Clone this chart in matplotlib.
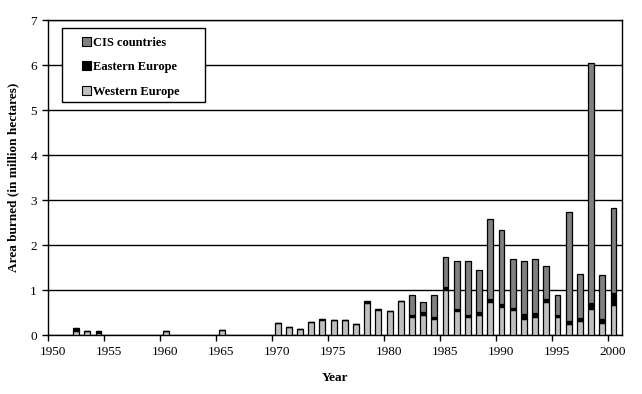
import numpy as np
import matplotlib
matplotlib.use('Agg')
import matplotlib.pyplot as plt
from matplotlib.patches import Patch, Rectangle
from matplotlib.transforms import ScaledTranslation

# Burned area per year (million ha)
years = [1952, 1953, 1954, 1960, 1965,
         1970, 1971, 1972, 1973, 1974, 1975, 1976, 1977, 1978, 1979,
         1980, 1981, 1982, 1983, 1984, 1985, 1986, 1987, 1988, 1989,
         1990, 1991, 1992, 1993, 1994, 1995, 1996, 1997, 1998, 1999, 2000]
western = [0.09, 0.08, 0.04, 0.08, 0.11,
           0.26, 0.17, 0.13, 0.29, 0.34, 0.33, 0.33, 0.24, 0.72, 0.55,
           0.53, 0.75, 0.41, 0.45, 0.36, 1.00, 0.54, 0.41, 0.45, 0.74,
           0.63, 0.55, 0.36, 0.41, 0.74, 0.41, 0.25, 0.32, 0.58, 0.27, 0.67]
eastern = [0.06, 0.0, 0.04, 0.0, 0.0,
           0.0, 0.0, 0.0, 0.01, 0.01, 0.0, 0.01, 0.0, 0.03, 0.02,
           0.0, 0.0, 0.04, 0.06, 0.04, 0.07, 0.04, 0.04, 0.06, 0.06,
           0.07, 0.05, 0.10, 0.08, 0.06, 0.04, 0.06, 0.06, 0.13, 0.08, 0.26]
cis = [0.0, 0.0, 0.0, 0.0, 0.0,
       0.0, 0.0, 0.0, 0.0, 0.0, 0.0, 0.0, 0.0, 0.0, 0.0,
       0.0, 0.0, 0.45, 0.22, 0.48, 0.66, 1.06, 1.19, 0.93, 1.77,
       1.63, 1.10, 1.18, 1.19, 0.73, 0.45, 2.42, 0.97, 5.33, 0.98, 1.89]

series_names = ['Western Europe', 'Eastern Europe', 'CIS countries']
series_colors = ['#c0c0c0', '#000000', '#808080']

plt.rcParams['font.family'] = ['Liberation Serif', 'DejaVu Serif']

fig = plt.figure(figsize=(6.42, 3.94), dpi=100)
ax = fig.add_axes([0.0748, 0.1497, 0.894, 0.7995])

# bars sit in the middle of each year slot
x = np.array(years) + 0.5
w = np.array(western)
e = np.array(eastern)
c = np.array(cis)
bar_kw = dict(width=0.52, edgecolor='black', linewidth=0.9, zorder=3)
ax.bar(x, w, color=series_colors[0], **bar_kw)
ax.bar(x, e, bottom=w, color=series_colors[1], **bar_kw)
ax.bar(x, c, bottom=w + e, color=series_colors[2], **bar_kw)

ax.set_xlim(1950, 2001.25)
ax.set_ylim(0, 7)
ax.set_xticks(np.arange(1950, 2001, 5))
ax.set_yticks(np.arange(0, 8, 1))
ax.yaxis.grid(True, color='black', linewidth=1.0, zorder=0)
ax.set_axisbelow(True)

for sp in ax.spines.values():
    sp.set_linewidth(1.0)
ax.tick_params(axis='both', direction='out', length=4, width=1.0,
               labelsize=9.5, pad=4)

# labels in the original sit a little to the right of the ticks
shift = ScaledTranslation(5 / 100, 0, fig.dpi_scale_trans)
for lbl in ax.get_xticklabels():
    lbl.set_transform(lbl.get_transform() + shift)

ax.set_xlabel('Year', fontsize=9.5, fontweight='bold', labelpad=10)
ax.set_ylabel('Area burned (in million hectares)', fontsize=9.5,
              fontweight='bold', labelpad=8)

# legend box drawn separately so the padding matches the original
box = Rectangle((0.024, 0.7406), 0.2496, 0.2331, transform=ax.transAxes,
                facecolor='white', edgecolor='black', linewidth=1.0, zorder=5)
ax.add_patch(box)

handles = [Patch(facecolor=series_colors[i], edgecolor='black', linewidth=0.8,
                 label=series_names[i]) for i in [2, 1, 0]]
leg = ax.legend(handles=handles, loc='upper left',
                bbox_to_anchor=(0.0587, 0.947), frameon=False,
                handlelength=0.75, handleheight=0.75, handletextpad=0.15,
                labelspacing=1.0, borderpad=0, borderaxespad=0,
                prop={'weight': 'bold', 'size': 9})
leg.set_zorder(6)

fig.savefig('out.png', dpi=100)
